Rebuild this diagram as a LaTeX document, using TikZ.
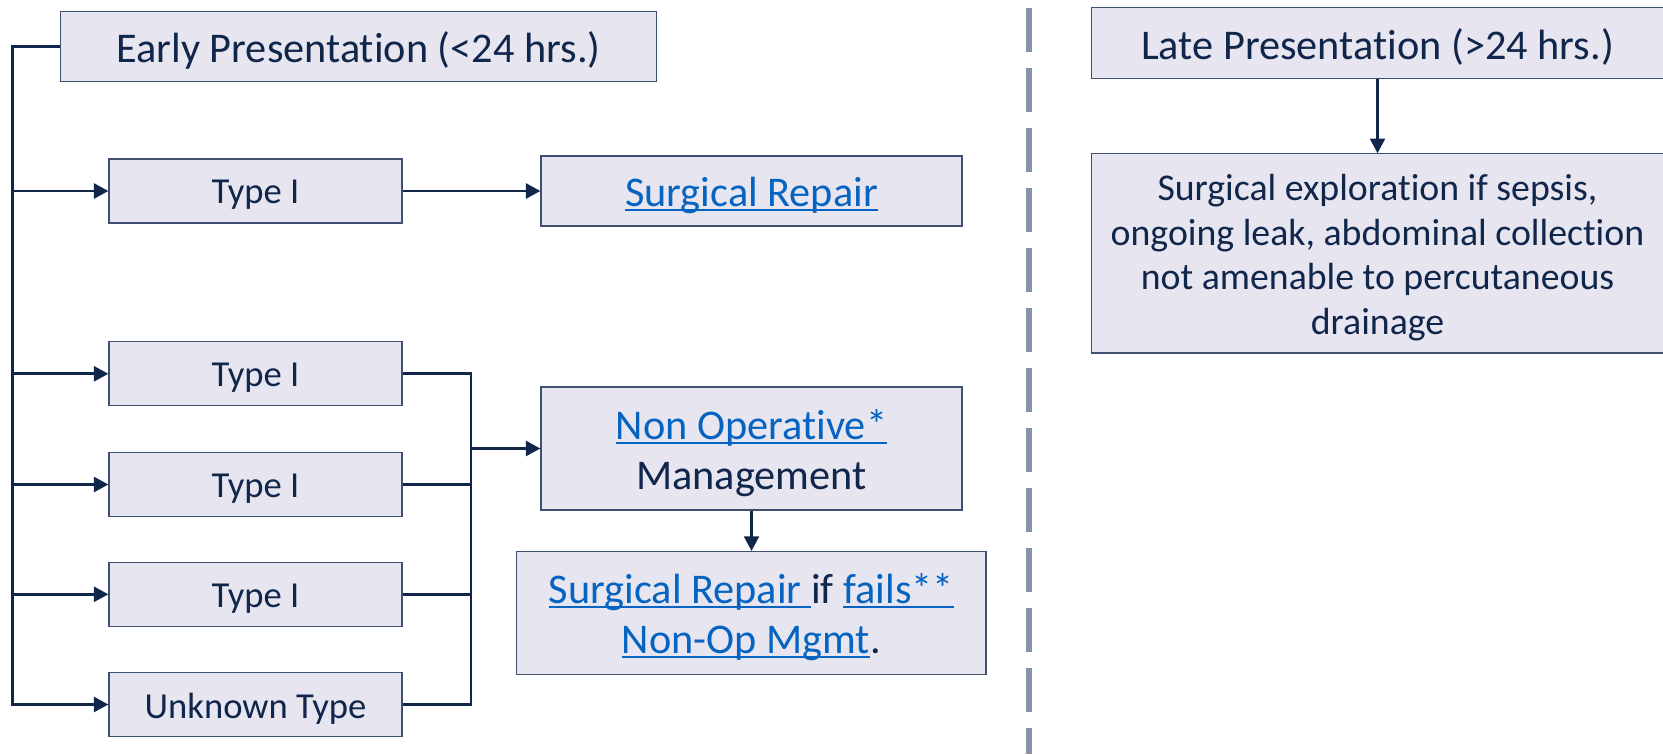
\documentclass[tikz,border=0pt]{standalone}
\usepackage{fontspec}
\setmainfont{Carlito}[Ligatures={NoCommon}, RawFeature={-liga;-clig;-dlig}]
\usetikzlibrary{arrows.meta}
\definecolor{navy}{HTML}{10264A}
\definecolor{boxfill}{HTML}{E7E5F0}
\definecolor{boxline}{HTML}{3E4F72}
\definecolor{linkc}{HTML}{0563C1}
\definecolor{dashc}{HTML}{8592A8}
\newcommand\lnk[1]{{\color{linkc}\setbox0\hbox{#1}\rlap{\rule[-0.11em]{\wd0}{0.05em}}\box0}}
\newcommand\bigf{\fontsize{21.15}{25}\selectfont}
\newcommand\typef{\fontsize{18.3}{22}\selectfont}
\newcommand\expf{\fontsize{18.9}{22.3}\selectfont}
\begin{document}
\begin{tikzpicture}[x=0.5pt,y=-0.5pt,
  box/.style={draw=boxline, line width=0.6pt, fill=boxfill, inner sep=0pt},
  lbl/.style={text=navy, align=center, inner sep=0pt, yshift=-2.1pt},
  conn/.style={draw=navy, line width=1.4pt},
  arr/.style={conn, -{Triangle[length=7.3pt,width=7.5pt]}},
  arrthin/.style={draw=navy, line width=1.05pt, -{Triangle[length=7.3pt,width=7.5pt]}}]
\useasboundingbox (0,0) rectangle (1663,754);
\fill[white] (0,0) rectangle (1663,754);
% left column
\node[box, minimum width=298pt, minimum height=35pt,
  label={[lbl,font=\bigf]center:{Early Presentation (<24 hrs.)}}] (early) at (358.5,46.7) {};
\node[box, minimum width=146.5pt, minimum height=32pt,
  label={[lbl,font=\typef]center:{Type I}}] (t1) at (255.5,191) {};
\node[box, minimum width=210.5pt, minimum height=35pt,
  label={[lbl,font=\bigf]center:{\lnk{Surgical Repair}}}] (sr) at (751.5,191) {};
\node[box, minimum width=146.5pt, minimum height=32pt,
  label={[lbl,font=\typef]center:{Type I}}] (t2) at (255.5,373.8) {};
\node[box, minimum width=146.5pt, minimum height=32pt,
  label={[lbl,font=\typef]center:{Type I}}] (t3) at (255.5,484.5) {};
\node[box, minimum width=146.5pt, minimum height=32pt,
  label={[lbl,font=\typef]center:{Type I}}] (t4) at (255.5,594.3) {};
\node[box, minimum width=146.5pt, minimum height=32pt,
  label={[lbl,font=\typef]center:{Unknown Type}}] (unk) at (255.5,704.5) {};
\node[box, minimum width=210.5pt, minimum height=61.5pt,
  label={[lbl,font=\bigf]center:{\lnk{Non Operative*}\\Management}}] (nonop) at (751.5,448.5) {};
\node[box, minimum width=234.75pt, minimum height=61.5pt,
  label={[lbl,font=\bigf]center:{\lnk{Surgical Repair }if \lnk{fails**}\\\lnk{Non-Op Mgmt}.}}] (sif) at (751.25,613) {};
% right column
\node[box, minimum width=286pt, minimum height=35.5pt,
  label={[lbl,font=\bigf]center:{Late Presentation (>24 hrs.)}}] (late) at (1377.5,43) {};
\node[box, minimum width=286pt, minimum height=99.6pt,
  label={[lbl,font=\expf]center:{Surgical exploration if sepsis,\\ongoing leak, abdominal collection\\not amenable to percutaneous\\drainage}}] (exp) at (1377.5,253.4) {};
% connectors
\coordinate (lx) at (12.7,0);
\coordinate (rx) at (471,0);
\draw[arr] (early.west) -- (early.west -| lx) -- (lx |- unk.west) -- (unk.west);
\draw[arr] (lx |- t1.west) -- (t1.west);
\draw[arr] (lx |- t2.west) -- (t2.west);
\draw[arr] (lx |- t3.west) -- (t3.west);
\draw[arr] (lx |- t4.west) -- (t4.west);
\draw[arr] (t1.east) -- (sr.west);
\draw[conn] (t2.east) -- (t2.east -| rx) -- (rx |- unk.east) -- (unk.east);
\draw[conn] (t3.east) -- (t3.east -| rx);
\draw[conn] (t4.east) -- (t4.east -| rx);
\draw[arr] (rx |- nonop.west) -- (nonop.west);
\draw[arrthin] (nonop.south) -- (nonop.south |- sif.north);
\draw[arrthin] (late.south) -- (exp.north);
% separator
\draw[dashc, line width=2.9pt, dash pattern=on 21.65pt off 8.35pt] (1028.7,8.3) -- (1028.7,754);
\end{tikzpicture}
\end{document}
